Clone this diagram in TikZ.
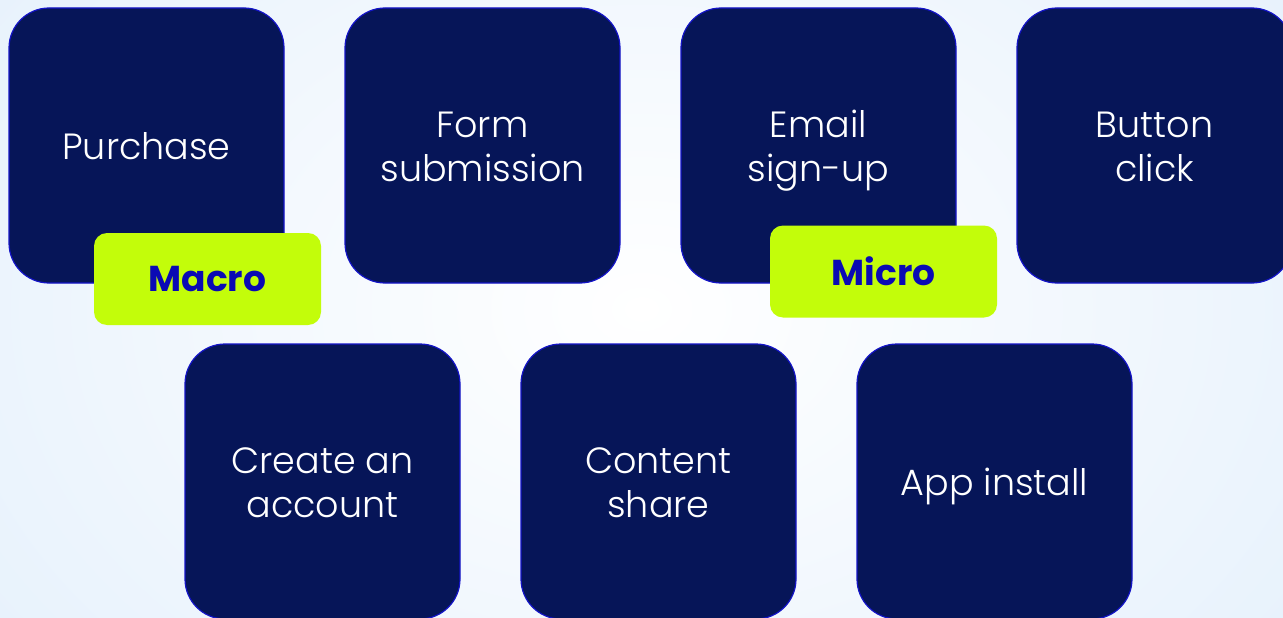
\documentclass[tikz,border=0pt]{standalone}
\usepackage{fontspec}
\setmainfont{Poppins}[UprightFont=* Light, BoldFont=* Bold]
\definecolor{navy}{HTML}{061558}
\definecolor{edgeblue}{HTML}{1414C8}
\definecolor{lime}{HTML}{C3FD0A}
\definecolor{labelblue}{HTML}{0A0AB4}
\definecolor{bgedge}{HTML}{E6F1FC}
% lines are centred on the span from cap top of the first line to the last baseline
\newcommand{\oneline}[1]{\rule{0pt}{28pt}\smash{#1}}
\newcommand{\twolines}[2]{\rule{0pt}{28pt}\smash{#1}\\\smash{#2}}
\begin{document}
\begin{tikzpicture}[x=1pt,y=-1pt,
  goal/.style={draw=edgeblue, line width=1.2pt, fill=navy, rounded corners=40pt,
    minimum width=275pt, minimum height=275pt, inner sep=0pt,
    text=white, align=center, font=\fontsize{36.5}{44}\selectfont},
  badge/.style={fill=lime, rounded corners=13pt, minimum width=227pt, minimum height=92pt,
    inner sep=0pt, text=labelblue, font=\fontsize{36}{40}\selectfont\bfseries}]
  % background
  \clip (0,0) rectangle (1283,618);
  \shade[inner color=white, outer color=bgedge] (-200,-300) rectangle (1483,918);
  \useasboundingbox (0,0) rectangle (1283,618);
  % top row
  \node[goal] (purchase) at (146.5,145.5) {\oneline{Purchase}};
  \node[goal] (form) at (482.5,145.5) {\twolines{Form}{submission}};
  \node[goal] (email) at (818.5,145.5) {\twolines{Email}{sign-up}};
  \node[goal] (button) at (1154.5,145.5) {\twolines{Button}{click}};
  % bottom row
  \node[goal] (account) at (322.5,481.5) {\twolines{Create an}{account}};
  \node[goal] (share) at (658.5,481.5) {\twolines{Content}{share}};
  \node[goal] (app) at (994.5,481.5) {\oneline{App install}};
  % category tags
  \node[badge] (macro) at (207.5,279) {Macro};
  \node[badge] (micro) at (883.5,271.5) {Micro};
\end{tikzpicture}
\end{document}
